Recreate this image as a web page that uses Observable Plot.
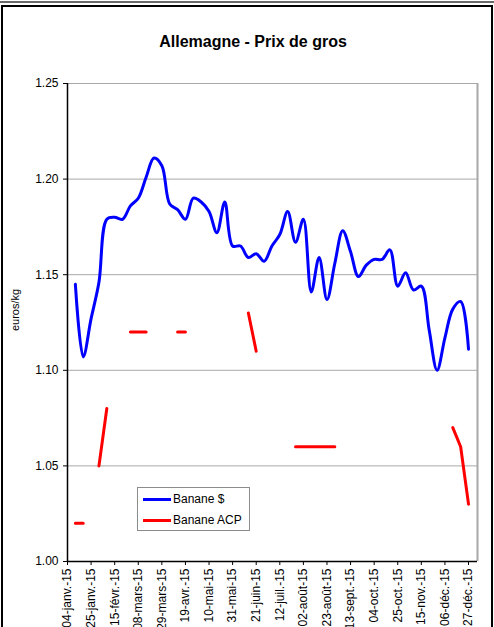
<!DOCTYPE html>
<html><head><meta charset="utf-8">
<script src="https://cdn.jsdelivr.net/npm/d3@7"></script>
<script src="https://cdn.jsdelivr.net/npm/@observablehq/plot@0.6"></script>
<style>
body{margin:0;background:#fff;}
#wrap{position:relative;width:494px;height:627px;overflow:hidden;font-family:"Liberation Sans",Arial,sans-serif;background:#fff;}
#topbar{position:absolute;left:0;top:1px;width:494px;height:2px;background:#6a6a6a;}
#frame{position:absolute;left:1px;top:5px;width:488px;height:640px;border-top:2px solid #000;border-left:2px solid #000;border-right:2px solid #000;}
#title{position:absolute;left:0;width:506px;top:33px;text-align:center;font-weight:bold;font-size:16px;color:#000;}
#chart{position:absolute;left:0;top:0;}
#ylabel{position:absolute;left:15px;top:310px;transform:translate(-50%,-50%) rotate(-90deg);font-size:11px;white-space:nowrap;color:#000;}
#legend{position:absolute;left:137px;top:487px;width:111px;height:42px;border:1px solid #8c8c8c;background:#fff;font-size:12px;}
#legend .row{position:absolute;left:5px;height:14px;display:flex;align-items:center;}
#legend .sw{width:28px;height:3px;margin-right:2px;}
</style></head><body>
<div id="wrap">
  <div id="topbar"></div>
  <div id="frame"></div>
  <div id="title">Allemagne - Prix de gros</div>
  <div id="chart"></div>
  <div id="ylabel">euros/kg</div>
  <div id="legend"></div>
</div>
<script>
// x tick labels (every 3 weeks, starting 04-janv.-15 = week 0)
const tickLabels = ["04-janv.-15","25-janv.-15","15-févr.-15","08-mars-15","29-mars-15","19-avr.-15","10-mai-15","31-mai-15","21-juin-15","12-juil.-15","02-août-15","23-août-15","13-sept.-15","04-oct.-15","25-oct.-15","15-nov.-15","06-déc.-15","27-déc.-15"];
const yTicks = [1.00, 1.05, 1.10, 1.15, 1.20, 1.25];
const seriesNames = ["Banane $", "Banane ACP"];
const seriesColors = ["#0000ff", "#ff0000"];

// weekly values, week 1 (11-janv.-15) to week 51 (27-déc.-15)
const bananeDollar = [
  1.145, 1.107, 1.127, 1.146, 1.179, 1.180, 1.179, 1.186, 1.190, 1.201,
  1.211, 1.207, 1.187, 1.184, 1.179, 1.190, 1.188, 1.183, 1.172, 1.188,
  1.165, 1.165, 1.159, 1.161, 1.157, 1.165, 1.171, 1.183, 1.167, 1.179,
  1.141, 1.159, 1.137, 1.156, 1.173, 1.162, 1.149, 1.155, 1.158, 1.158,
  1.163, 1.144, 1.151, 1.142, 1.144, 1.121, 1.100, 1.117, 1.132, 1.136,
  1.111
];
const bananeACP = [
  1.02, 1.02, null, 1.05, 1.08, null, null, 1.12, 1.12, 1.12,
  null, null, null, 1.12, 1.12, null, null, null, null, null,
  null, null, 1.13, 1.11, null, null, null, null, 1.06, 1.06,
  1.06, 1.06, 1.06, 1.06, null, null, null, null, null, null,
  null, null, null, null, null, null, null, null, 1.07, 1.06,
  1.03
];

const blueData = bananeDollar.map((v, i) => ({week: i + 1, value: v}));
const redData = bananeACP.map((v, i) => ({week: i + 1, value: v}));
const tickWeeks = tickLabels.map((_, i) => i * 3);
const xMax = 365 / 7;

const chart = Plot.plot({
  width: 494,
  height: 627,
  marginTop: 83,
  marginLeft: 67,
  marginRight: 17,
  marginBottom: 66,
  style: {fontFamily: "'Liberation Sans', Arial, sans-serif", fontSize: "12px", background: "transparent", color: "#000", overflow: "visible"},
  x: {type: "linear", domain: [0, xMax]},
  y: {domain: [1.0, 1.25]},
  marks: [
    Plot.ruleY(yTicks.filter(d => d > 1.0), {stroke: "#a8a8a8", strokeWidth: 1}),
    Plot.ruleX([xMax], {stroke: "#a8a8a8", strokeWidth: 2}),
    Plot.axisY({ticks: yTicks, tickFormat: d => d.toFixed(2), tickSize: 4, tickPadding: 5, label: null}),
    Plot.axisX({ticks: tickWeeks, tickFormat: d => tickLabels[Math.round(d / 3)], tickRotate: -90, tickSize: 4, tickPadding: 3, label: null}),
    Plot.ruleX([0], {stroke: "#000", strokeWidth: 1.5}),
    Plot.ruleY([1.0], {stroke: "#000", strokeWidth: 1.5}),
    Plot.line(blueData, {x: "week", y: "value", stroke: seriesColors[0], strokeWidth: 3, curve: "catmull-rom"}),
    Plot.line(redData, {x: "week", y: "value", stroke: seriesColors[1], strokeWidth: 3})
  ]
});
document.getElementById("chart").appendChild(chart);

const legend = document.getElementById("legend");
seriesNames.forEach((name, i) => {
  const row = document.createElement("div");
  row.className = "row";
  row.style.top = (4 + i * 21) + "px";
  const sw = document.createElement("div");
  sw.className = "sw";
  sw.style.background = seriesColors[i];
  const tx = document.createElement("span");
  tx.textContent = name;
  row.appendChild(sw);
  row.appendChild(tx);
  legend.appendChild(row);
});
</script>
</body></html>
